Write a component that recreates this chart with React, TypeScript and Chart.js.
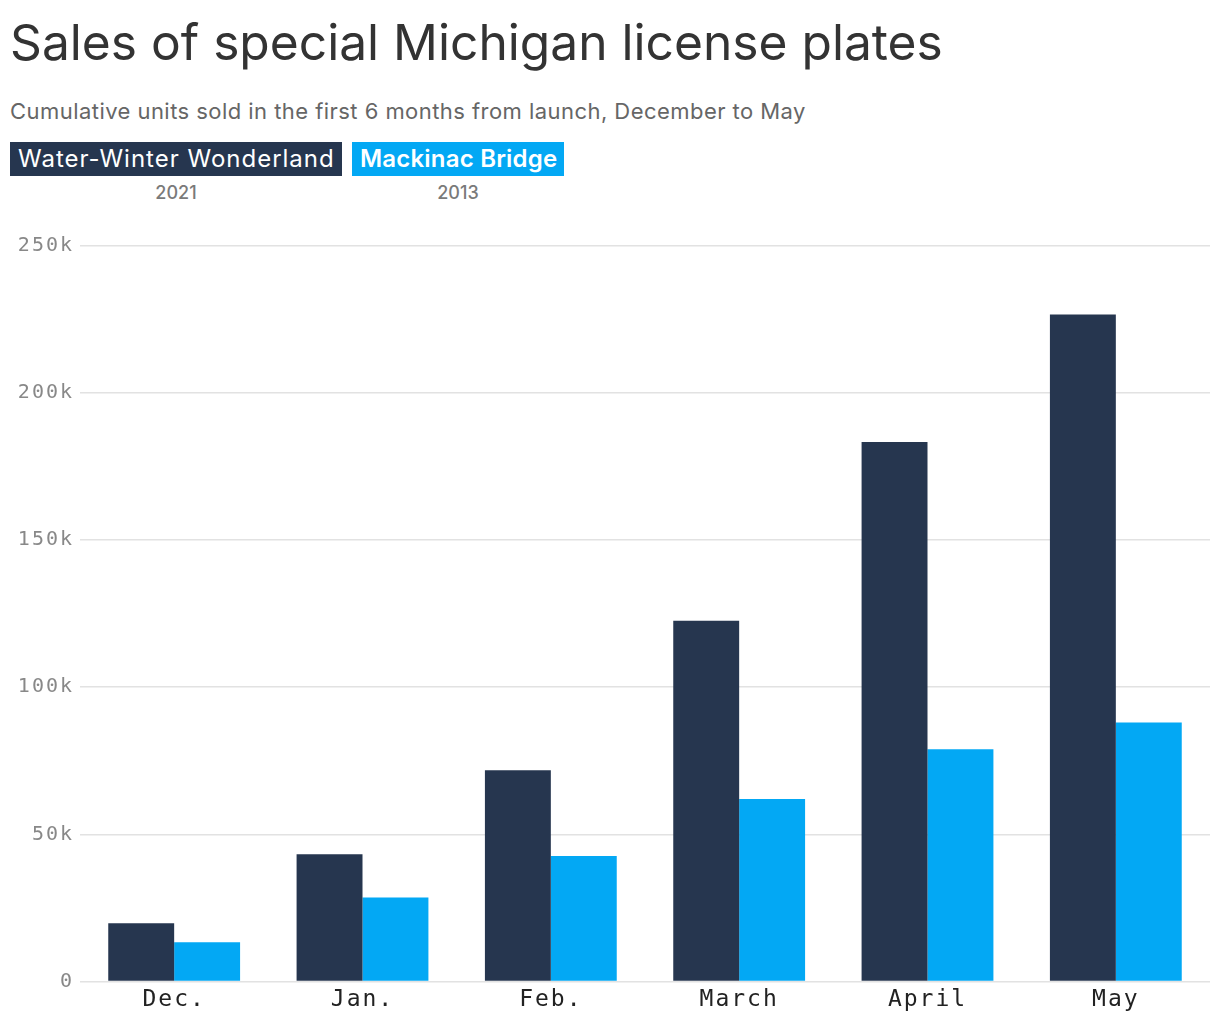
import React, { useEffect, useRef } from "react";
import { Chart, registerables } from "chart.js";

Chart.register(...registerables);

const categories = ["Dec.", "Jan.", "Feb.", "March", "April", "May"];
const waterWinter = [19800, 43200, 71800, 122600, 183400, 226700];
const mackinac = [13300, 28500, 42600, 62000, 78900, 88000];
const seriesNames = ["Water-Winter Wonderland", "Mackinac Bridge"];
const seriesYears = ["2021", "2013"];
const yTicks = [0, 50000, 100000, 150000, 200000, 250000];

const DARK = "#26364f";
const LIGHT = "#03a8f4";
const MONO = "'DejaVu Sans Mono', 'Liberation Mono', monospace";

const spacingPlugin = {
  id: "letterSpacing",
  beforeDraw(chart: any) {
    (chart.ctx as any).letterSpacing = "2px";
  },
};

export default function App() {
  const canvasRef = useRef<HTMLCanvasElement | null>(null);

  useEffect(() => {
    document.body.style.margin = "0";
    const el = canvasRef.current!;
    const chart = new Chart(el, {
      type: "bar",
      plugins: [spacingPlugin],
      data: {
        labels: categories,
        datasets: [
          {
            label: seriesNames[0],
            data: waterWinter,
            backgroundColor: DARK,
            categoryPercentage: 0.7,
            barPercentage: 1.0,
          },
          {
            label: seriesNames[1],
            data: mackinac,
            backgroundColor: LIGHT,
            categoryPercentage: 0.7,
            barPercentage: 1.0,
          },
        ],
      },
      options: {
        animation: false,
        responsive: false,
        maintainAspectRatio: false,
        layout: { padding: { top: 0, right: 10, left: 0, bottom: 0 } },
        plugins: {
          legend: { display: false },
          tooltip: { enabled: false },
          title: { display: false },
        },
        scales: {
          x: {
            grid: { display: false },
            border: { display: false },
            ticks: {
              color: "#222",
              font: { family: MONO, size: 23 },
              padding: -3,
            },
          },
          y: {
            min: 0,
            max: 250000,
            afterBuildTicks: (scale: any) => {
              scale.ticks = yTicks.map((v) => ({ value: v }));
            },
            afterFit: (scale: any) => {
              scale.width = 80;
            },
            grid: {
              color: "#e2e2e2",
              lineWidth: 1.5,
              drawTicks: false,
            },
            border: { display: false },
            ticks: {
              color: "#888",
              padding: 6,
              font: { family: MONO, size: 20 },
              callback: (v: any) => (Number(v) === 0 ? "0" : Number(v) / 1000 + "k"),
            },
          },
        },
      },
    });
    return () => chart.destroy();
  }, []);

  const legendBox = (bg: string, bold: boolean): React.CSSProperties => ({
    position: "absolute",
    top: 142,
    height: 34,
    background: bg,
    color: "#fff",
    fontFamily: "Inter, 'Noto Sans', sans-serif",
    fontSize: 24,
    fontWeight: bold ? 600 : 400,
    letterSpacing: bold ? 0.2 : 1,
    lineHeight: "34px",
    padding: "0 8px",
    whiteSpace: "nowrap",
    boxSizing: "border-box",
  });

  const yearStyle: React.CSSProperties = {
    position: "absolute",
    top: 182,
    fontFamily: "Inter, 'Noto Sans', sans-serif",
    fontSize: 18,
    fontWeight: 500,
    color: "#7a7a7a",
    textAlign: "center",
  };

  return (
    <div style={{ position: "relative", width: 1220, height: 1020, background: "#fff", overflow: "hidden" }}>
      <div
        style={{
          position: "absolute",
          left: 10,
          top: 12,
          fontFamily: "Inter, 'Noto Sans', sans-serif",
          fontSize: 49.7,
          fontWeight: 400,
          color: "#333",
          whiteSpace: "nowrap",
        }}
      >
        Sales of special Michigan license plates
      </div>
      <div
        style={{
          position: "absolute",
          left: 10,
          top: 98,
          fontFamily: "Inter, 'Noto Sans', sans-serif",
          fontSize: 22,
          letterSpacing: 0.45,
          color: "#666",
          whiteSpace: "nowrap",
        }}
      >
        Cumulative units sold in the first 6 months from launch, December to May
      </div>
      <div style={{ ...legendBox(DARK, false), left: 10, width: 332 }}>{seriesNames[0]}</div>
      <div style={{ ...legendBox(LIGHT, true), left: 352, width: 212 }}>{seriesNames[1]}</div>
      <div style={{ ...yearStyle, left: 10, width: 332 }}>{seriesYears[0]}</div>
      <div style={{ ...yearStyle, left: 352, width: 212 }}>{seriesYears[1]}</div>
      <canvas
        ref={canvasRef}
        width={1220}
        height={783}
        style={{ position: "absolute", left: 0, top: 228, width: 1220, height: 783 }}
      />
    </div>
  );
}
